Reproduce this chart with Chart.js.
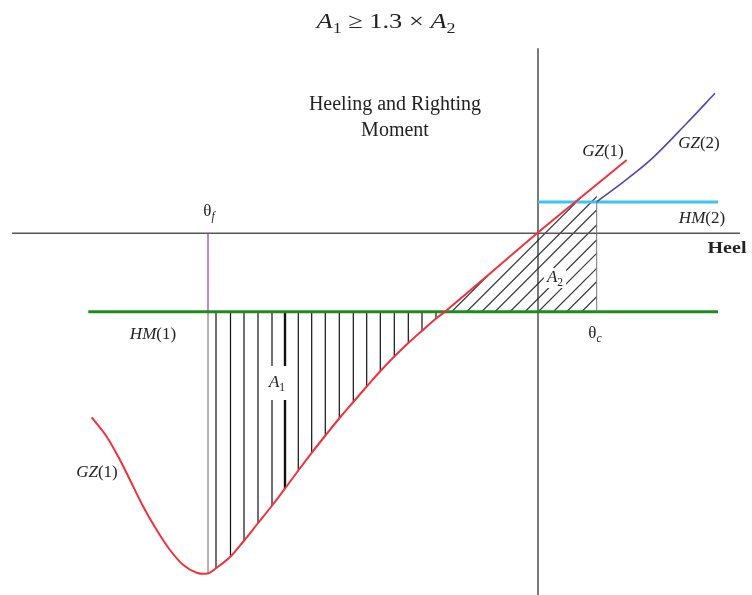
<!DOCTYPE html>
<html>
<head>
<meta charset="utf-8">
<script src="https://cdn.jsdelivr.net/npm/chart.js@4.4.1/dist/chart.umd.min.js"></script>
<style>
  html, body { margin: 0; padding: 0; background: #fff; }
  #wrap { width: 752px; height: 595px; position: relative; }
</style>
</head>
<body>
<div id="wrap"><canvas id="chart"></canvas></div>
<script>
// righting lever curves (heel, moment)
const gz1X = [-44.63, -43.13, -41.8, -40.8, -39.47, -38.13, -36.8, -35.47, -34.13, -32.97, -32.2, -30.8, -29.47, -28.07, -26.63, -25.3, -23.97, -22.63, -21.3, -19.8, -18.47, -17.13, -15.8, -14.47, -12.97, -11.63, -10.13, -9.3, -4.8, 0, 4.4, 8.87];
const gz1Y = [-18.4, -20.34, -22.67, -24.67, -27.34, -29.67, -31.67, -33.17, -33.94, -34.0, -33.5, -32.37, -30.82, -29.07, -27.27, -25.52, -23.72, -21.95, -20.27, -18.42, -16.87, -15.32, -13.82, -12.42, -10.97, -9.77, -8.47, -7.84, -4.02, 0.08, 3.68, 7.33];
const gz2X = [5.87, 8.87, 11.53, 14.87, 17.7];
const gz2Y = [3.16, 5.4, 7.6, 11.0, 14.0];

// heeling moment levels
const hm1Level = -7.84;
const hm1Range = [-44.97, 18.0];
const hm2Level = 3.13;
const hm2Range = [0, 18.0];

// axes
const heelAxisRange = [-52.6, 20.2];
const momentAxisRange = [18.5, -36.17];

// angles
const thetaF = -33.0;
const thetaC = 5.87;
const gzAtThetaF = -34.0;

// hatching
const hatchA1X = [-32.2, -30.75, -29.4, -28.0, -26.6, -25.3, -23.97, -22.63, -21.27, -19.87, -18.47, -17.13, -15.77, -14.37, -12.97, -11.6, -10.2];
const hatchA2X = [-8.63, -7.13, -5.63, -4.3, -2.8, -1.3, 0.03, 1.53, 2.87, 4.37, 5.87];

const xLimits = [-53.8, 21.4];
const yLimits = [-36.17, 23.33];

const zip = (xs, ys) => xs.map((x, i) => ({ x, y: ys[i] }));
const hLine = (range, level) => range.map(x => ({ x, y: level }));
const vLine = (x, range) => range.map(y => ({ x, y }));

// text annotations
const notes = [
  { x: -15.2, y: 21.1, size: 22, sx: 1.2, runs: [['A', 'i'], ['1', 's'], [' \u2265 1.3 \u00d7 '], ['A', 'i'], ['2', 's']] },
  { x: -14.3, y: 12.9, size: 20, runs: [['Heeling and Righting']] },
  { x: -14.3, y: 10.3, size: 20, runs: [['Moment']] },
  { x: 18.9, y: -1.57, size: 16, sx: 1.25, bold: true, runs: [['Heel']] },
  { x: 6.5, y: 8.13, size: 17, runs: [['GZ', 'i'], ['(1)']] },
  { x: 16.1, y: 8.93, size: 17, runs: [['GZ', 'i'], ['(2)']] },
  { x: 16.4, y: 1.43, size: 17, runs: [['HM', 'i'], ['(2)']] },
  { x: -38.5, y: -10.17, size: 17, runs: [['HM', 'i'], ['(1)']] },
  { x: -44.1, y: -23.97, size: 17, runs: [['GZ', 'i'], ['(1)']] },
  { x: -32.9, y: 2.13, size: 17, runs: [['\u03b8'], ['f', 'is']] },
  { x: 5.7, y: -10.07, size: 17, runs: [['\u03b8'], ['c', 'is']] },
  { x: -26.1, y: -14.97, size: 17, bg: [5, 17], runs: [['A', 'i'], ['1', 's']] },
  { x: 1.7, y: -4.47, size: 17, bg: [3, 10], runs: [['A', 'i'], ['2', 's']] }
];

const FAMILY = '"Liberation Serif", "Times New Roman", serif';

function drawRich(ctx, note, px, py) {
  const parts = note.runs.map(([t, f = '']) => {
    const sub = f.includes('s');
    const size = sub ? note.size * 0.68 : note.size;
    const font = (f.includes('i') ? 'italic ' : '') + (note.bold ? 'bold ' : '') + size + 'px ' + FAMILY;
    ctx.font = font;
    return { t, font, sub, w: ctx.measureText(t).width };
  });
  const total = parts.reduce((s, p) => s + p.w, 0);
  ctx.save();
  ctx.translate(px, py);
  ctx.scale(note.sx || 1, 1);
  if (note.bg) {
    ctx.fillStyle = '#fff';
    ctx.fillRect(-total / 2 - note.bg[0], -note.bg[1], total + 2 * note.bg[0], 2 * note.bg[1]);
  }
  ctx.fillStyle = '#222';
  ctx.textBaseline = 'middle';
  ctx.textAlign = 'left';
  let cx = -total / 2;
  parts.forEach(p => {
    ctx.font = p.font;
    ctx.fillText(p.t, cx, p.sub ? note.size * 0.3 : 0);
    cx += p.w;
  });
  ctx.restore();
}

// hatched areas A1 and A2 between GZ(1) and HM(1)
const hatchPlugin = {
  id: 'hatch',
  beforeDatasetsDraw(chart) {
    const { ctx, chartArea, scales: { x, y } } = chart;
    const meta = chart.getDatasetMeta(0);
    const line = meta.dataset;
    const pts = meta.data;
    if (line.updateControlPoints) line.updateControlPoints(chartArea, 'x');
    const hmY = y.getPixelForValue(hm1Level);
    const xf = x.getPixelForValue(thetaF);
    const xc = x.getPixelForValue(thetaC);

    const region = () => {
      ctx.beginPath();
      if (line.path) {
        line.path(ctx);
      } else {
        pts.forEach((p, i) => i ? ctx.lineTo(p.x, p.y) : ctx.moveTo(p.x, p.y));
      }
      ctx.lineTo(pts[pts.length - 1].x, hmY);
      ctx.lineTo(pts[0].x, hmY);
      ctx.closePath();
      ctx.clip();
    };

    // A1: vertical lines
    ctx.save();
    region();
    ctx.beginPath();
    ctx.rect(xf, hmY, xc - xf, chartArea.bottom - hmY);
    ctx.clip();
    ctx.strokeStyle = '#111';
    hatchA1X.forEach((v, i) => {
      const px = x.getPixelForValue(v);
      ctx.lineWidth = i === 5 ? 2.4 : 1.2;
      ctx.beginPath();
      ctx.moveTo(px, hmY);
      ctx.lineTo(px, chartArea.bottom);
      ctx.stroke();
    });
    ctx.restore();

    // A2: diagonal lines
    ctx.save();
    region();
    ctx.beginPath();
    ctx.rect(xf, chartArea.top, xc - xf, hmY - chartArea.top);
    ctx.clip();
    ctx.strokeStyle = '#333';
    ctx.lineWidth = 1.2;
    hatchA2X.forEach(v => {
      const px = x.getPixelForValue(v);
      ctx.beginPath();
      ctx.moveTo(px, hmY);
      ctx.lineTo(px + 200, hmY - 200);
      ctx.stroke();
    });
    ctx.restore();
  }
};

const notesPlugin = {
  id: 'notes',
  afterDatasetsDraw(chart) {
    const { ctx, scales: { x, y } } = chart;
    notes.forEach(n => drawRich(ctx, n, x.getPixelForValue(n.x), y.getPixelForValue(n.y)));
  }
};

const straight = (data, color, width) => ({
  data, borderColor: color, borderWidth: width, showLine: true, pointRadius: 0, tension: 0
});

new Chart(document.getElementById('chart'), {
  type: 'scatter',
  data: {
    datasets: [
      { data: zip(gz1X, gz1Y), borderColor: '#f0323f', borderWidth: 2, showLine: true, pointRadius: 0, tension: 0.35 },
      { data: zip(gz2X, gz2Y), borderColor: '#5246ad', borderWidth: 1.6, showLine: true, pointRadius: 0, tension: 0.35 },
      straight(vLine(thetaC, [hm1Level, hm2Level]), '#777', 1),
      straight(hLine(hm1Range, hm1Level), '#1f8c23', 3),
      straight(hLine(hm2Range, hm2Level), '#3fc4ee', 3),
      straight(vLine(thetaF, [0, hm1Level]), '#a42fb8', 1.2),
      straight(vLine(thetaF, [hm1Level, gzAtThetaF]), '#aaa', 1),
      straight(hLine(heelAxisRange, 0), '#555', 1.6),
      straight(vLine(0, momentAxisRange), '#222', 1.2)
    ]
  },
  options: {
    responsive: true,
    maintainAspectRatio: false,
    animation: false,
    layout: { padding: 0 },
    plugins: { legend: { display: false }, tooltip: { enabled: false } },
    scales: {
      x: { type: 'linear', min: xLimits[0], max: xLimits[1], display: false },
      y: { type: 'linear', min: yLimits[0], max: yLimits[1], display: false }
    }
  },
  plugins: [hatchPlugin, notesPlugin]
});
</script>
</body>
</html>
